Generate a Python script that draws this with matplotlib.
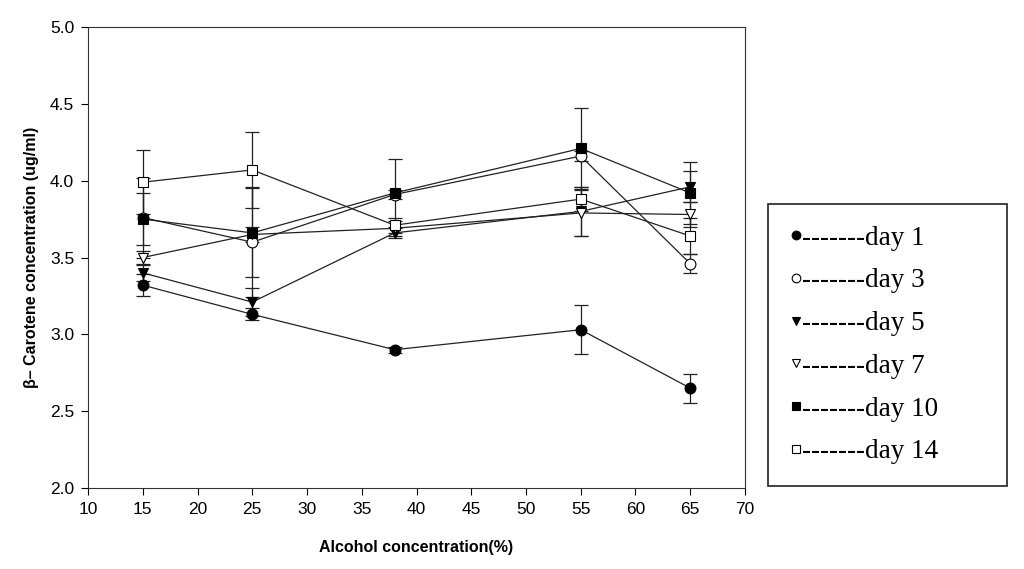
import matplotlib
matplotlib.use("Agg")
import matplotlib.pyplot as plt

# alcohol concentration (%) and beta-carotene readings (ug/ml)
alcohol = [15, 25, 38, 55, 65]

day1 = [3.32, 3.13, 2.90, 3.03, 2.65]
day3 = [3.76, 3.60, 3.91, 4.16, 3.46]
day5 = [3.40, 3.21, 3.66, 3.80, 3.96]
day7 = [3.50, 3.65, 3.69, 3.79, 3.78]
day10 = [3.75, 3.66, 3.92, 4.21, 3.92]
day14 = [3.99, 4.07, 3.71, 3.88, 3.64]

err1 = [0.07, 0.04, 0.02, 0.16, 0.095]
err3 = [0.26, 0.36, 0.03, 0.03, 0.06]
err5 = [0.05, 0.09, 0.03, 0.16, 0.10]
err7 = [0.04, 0.05, 0.05, 0.15, 0.08]
err10 = [0.17, 0.29, 0.22, 0.265, 0.20]
err14 = [0.21, 0.25, 0.05, 0.08, 0.12]

labels = ["day 1", "day 3", "day 5", "day 7", "day 10", "day 14"]


def main():
    fig = plt.figure(figsize=(10.24, 5.69), dpi=100)
    ax = fig.add_axes([0.086, 0.1424, 0.6415, 0.8101])

    series = [
        (day1, err1, "o", "black"),
        (day3, err3, "o", "white"),
        (day5, err5, "v", "black"),
        (day7, err7, "v", "white"),
        (day10, err10, "s", "black"),
        (day14, err14, "s", "white"),
    ]

    handles = []
    for (vals, errs, marker, face), lab in zip(series, labels):
        ax.errorbar(alcohol, vals, yerr=errs, fmt="none", ecolor="#222222",
                    elinewidth=0.9, capsize=5, capthick=0.9, zorder=2)
        ax.plot(alcohol, vals, color="#222222", linewidth=0.9, zorder=3)
        h, = ax.plot(alcohol, vals, linestyle="none", marker=marker,
                     markersize=7.8, markerfacecolor=face,
                     markeredgecolor="black", markeredgewidth=0.8, zorder=4,
                     label="-------" + lab)
        handles.append(h)

    ax.set_xlim(10, 70)
    ax.set_ylim(2.0, 5.0)
    ax.set_xticks(range(10, 71, 5))
    ax.set_yticks([2.0, 2.5, 3.0, 3.5, 4.0, 4.5, 5.0])
    ax.set_yticklabels([f"{v:.1f}" for v in [2.0, 2.5, 3.0, 3.5, 4.0, 4.5, 5.0]])
    ax.tick_params(direction="out", length=5, width=0.8, labelsize=12.5,
                   colors="black", pad=5)
    for lbl in ax.get_xticklabels() + ax.get_yticklabels():
        lbl.set_family("Liberation Sans")
    for sp in ax.spines.values():
        sp.set_linewidth(0.8)
        sp.set_color("#333333")

    ax.set_xlabel("Alcohol concentration(%)", fontsize=11.5, fontweight="bold",
                  family="Liberation Sans", labelpad=17)
    ax.set_ylabel("β– Carotene concentration (ug/ml)", fontsize=11.5,
                  fontweight="bold", family="Liberation Sans", labelpad=8)

    leg = fig.legend(handles=handles, loc="upper left",
                     bbox_to_anchor=(768 / 1024, 1 - 204 / 569, 239 / 1024, 0.0),
                     mode="expand", frameon=True, fancybox=False, shadow=False,
                     handlelength=0.45, handletextpad=0.0, markerscale=0.8,
                     borderpad=0.8, labelspacing=0.655, borderaxespad=0.0,
                     prop={"family": "Liberation Serif", "size": 19.5})
    leg.get_frame().set_edgecolor("black")
    leg.get_frame().set_linewidth(1.3)

    fig.savefig("out.png", dpi=100)
    plt.close(fig)


if __name__ == "__main__":
    main()
